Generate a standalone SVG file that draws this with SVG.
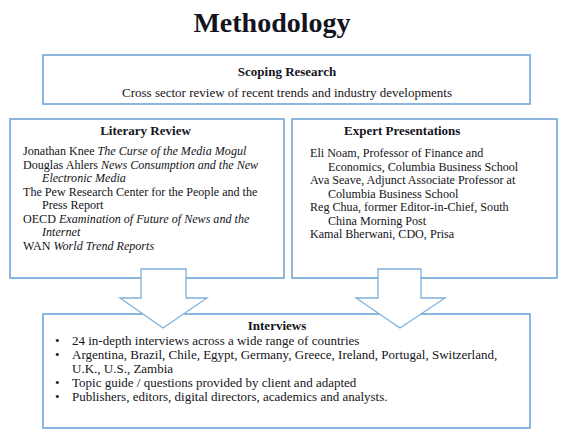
<svg xmlns="http://www.w3.org/2000/svg" width="570" height="441" viewBox="0 0 570 441">
<style>
.box{fill:#fff;stroke:#7fb0dc;stroke-width:1.8}
.arrow{fill:#fff;stroke:#7fb0dc;stroke-width:1.3;stroke-linejoin:miter}
text{font-family:"Liberation Serif","Times New Roman",serif;fill:#141420}
.h{font-weight:bold;font-size:13px}
.t{font-size:13px}
.s{font-size:12.1px}
.i{font-style:italic}
.title{font-weight:bold;font-size:28px}
</style>
<rect width="570" height="441" fill="#fff"/>
<text class="title" x="272" y="32" text-anchor="middle">Methodology</text>
<g id="scoping">
<rect class="box" x="43" y="55" width="487" height="49"/>
<text class="h" x="287" y="76" text-anchor="middle">Scoping Research</text>
<text class="t" x="287" y="97" text-anchor="middle">Cross sector review of recent trends and industry developments</text>
</g>
<g id="literary">
<rect class="box" x="10" y="119" width="274" height="159"/>
<text class="h" x="145.5" y="135" text-anchor="middle">Literary Review</text>
<text class="s" x="23" y="155">Jonathan Knee <tspan class="i">The Curse of the Media Mogul</tspan></text>
<text class="s" x="23" y="168.5">Douglas Ahlers <tspan class="i">News Consumption and the New</tspan></text>
<text class="s i" x="42" y="182">Electronic Media</text>
<text class="s" x="23" y="195.5">The Pew Research Center for the People and the</text>
<text class="s" x="42" y="209">Press Report</text>
<text class="s" x="23" y="222.5">OECD <tspan class="i">Examination of Future of News and the</tspan></text>
<text class="s i" x="42" y="236">Internet</text>
<text class="s" x="23" y="249.5">WAN <tspan class="i">World Trend Reports</tspan></text>
</g>
<g id="expert">
<rect class="box" x="292" y="119" width="265" height="159"/>
<text class="h" x="344" y="135">Expert Presentations</text>
<text class="s" x="310" y="157">Eli Noam, Professor of Finance and</text>
<text class="s" x="328" y="170.5">Economics, Columbia Business School</text>
<text class="s" x="310" y="184">Ava Seave, Adjunct Associate Professor at</text>
<text class="s" x="328" y="197.5">Columbia Business School</text>
<text class="s" x="310" y="211">Reg Chua, former Editor-in-Chief, South</text>
<text class="s" x="328" y="224.5">China Morning Post</text>
<text class="s" x="310" y="238">Kamal Bherwani, CDO, Prisa</text>
</g>
<g id="interviews">
<rect class="box" x="43" y="314" width="487" height="114"/>
</g>
<g id="connectors">
<path class="arrow" d="M141,269 H186 V298 H207 L163,328 L120,298 H141 Z"/>
<path class="arrow" d="M378,269 H421 V298 H445 L400,328 L356,298 H378 Z"/>
</g>
<g id="interviews-text">
<text class="h" x="277" y="330" text-anchor="middle">Interviews</text>
<text class="t" x="55" y="345">•</text>
<text class="t" x="72" y="345">24 in-depth interviews across a wide range of countries</text>
<text class="t" x="55" y="359">•</text>
<text class="t" x="72" y="359">Argentina, Brazil, Chile, Egypt, Germany, Greece, Ireland, Portugal, Switzerland,</text>
<text class="t" x="72" y="373">U.K., U.S., Zambia</text>
<text class="t" x="55" y="387">•</text>
<text class="t" x="72" y="387">Topic guide / questions provided by client and adapted</text>
<text class="t" x="55" y="401">•</text>
<text class="t" x="72" y="401">Publishers, editors, digital directors, academics and analysts.</text>
</g>
</svg>
